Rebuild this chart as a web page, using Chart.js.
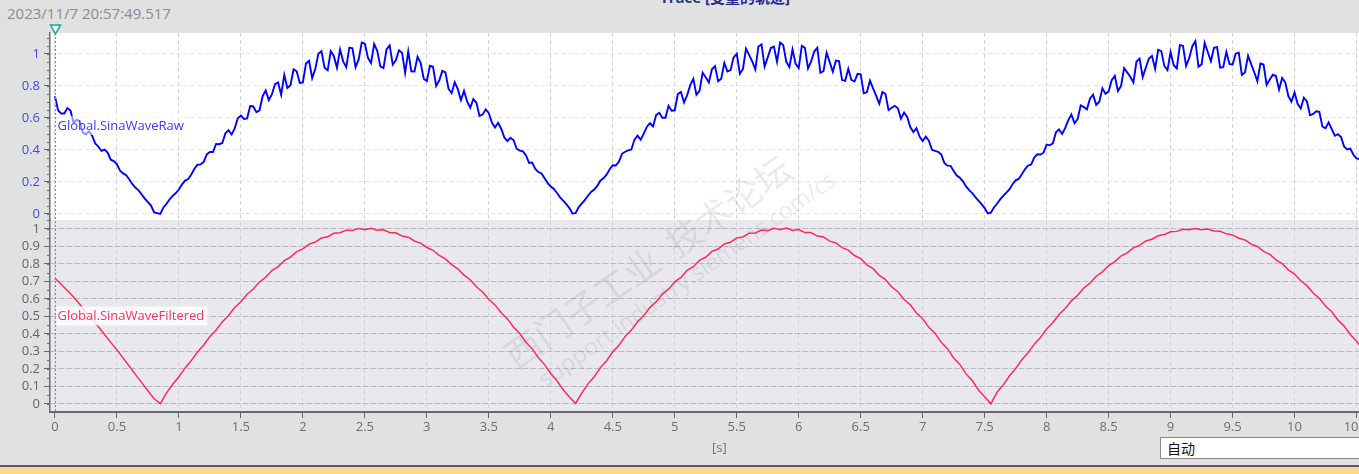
<!DOCTYPE html>
<html>
<head>
<meta charset="utf-8">
<script src="https://cdn.jsdelivr.net/npm/chart.js@4.4.1/dist/chart.umd.min.js"></script>
<style>
html,body{margin:0;padding:0;width:1359px;height:474px;overflow:hidden;background:#e1e1e1;font-family:"Open Sans","Noto Sans",sans-serif;}
#wrap{position:absolute;left:0;top:0;width:1359px;height:466px;}
#stamp{position:absolute;left:7px;top:3px;font-size:15px;color:#8c8c8c;white-space:nowrap;}
#title{position:absolute;left:660px;top:-11px;font-size:15px;font-weight:bold;line-height:17px;white-space:nowrap;font-family:"Open Sans","Noto Sans CJK SC",sans-serif;}
#title .a{color:#24407a;}
#title .b{color:#2a2a8a;}
#unit{position:absolute;left:712px;top:438px;font-size:13px;color:#707070;white-space:nowrap;}
#auto{position:absolute;left:1160px;top:437px;width:199px;height:22px;background:#fff;border:1px solid #8a8a8a;border-right:none;box-sizing:border-box;font-size:14px;padding-left:6px;line-height:20px;color:#111;font-family:"Noto Sans CJK SC",sans-serif;}
#strip{position:absolute;left:0;top:465px;width:1359px;height:9px;background:#fdd68d;border-top:2px solid #5c5c5c;box-sizing:border-box;}
</style>
</head>
<body>
<div id="stamp">2023/11/7 20:57:49.517</div>
<div id="title"><span class="a">Trace </span><span class="b">[变量的轨迹]</span></div>
<div id="wrap"><canvas id="c" width="1359" height="466"></canvas></div>
<div id="unit">[s]</div>
<div id="auto">自动</div>
<div id="strip"></div>
<script>
// ---- data ----
// grid samples at 0, 0.05, 0.10 ... s ; mid samples at 0.025, 0.075 ... s
const gridStep = 0.05;

const seriesNames = ['Global.SinaWaveRaw', 'Global.SinaWaveFiltered'];

const rawGrid = [
  0.735,0.628,0.662,0.571,0.578,0.498,0.489,0.421,0.402,0.339,0.311,0.254,0.216,0.164,0.122,0.074,0.010,
  0.000,0.064,0.113,0.153,0.209,0.247,0.308,0.326,0.387,0.438,
  0.444,0.523,0.535,0.615,0.597,0.672,0.648,0.772,0.747,0.822,
  0.869,0.805,0.892,0.822,0.957,0.906,1.017,0.898,0.986,1.028,
  0.918,1.035,0.966,1.064,0.943,1.020,0.912,1.054,0.960,1.008,
  1.016,0.890,0.944,0.830,0.920,0.834,0.885,0.755,0.780,0.769,
  0.664,0.695,0.621,0.630,0.540,0.533,0.456,0.461,0.396,0.366,
  0.322,0.262,0.224,0.172,0.131,0.084,0.037,
  0.005,0.065,0.114,0.153,0.208,0.246,0.305,0.328,0.389,0.403,
  0.490,0.502,0.567,0.618,0.601,0.676,0.648,0.762,0.742,0.844,
  0.769,0.854,0.904,0.829,0.944,0.899,1.002,0.905,0.994,0.903,
  1.060,0.979,1.046,1.072,0.951,1.028,0.912,1.039,0.952,1.038,
  0.892,0.949,0.958,0.837,0.907,0.828,0.873,0.760,0.785,0.689,
  0.750,0.664,0.661,0.634,0.543,0.536,0.456,0.458,0.394,0.372,
  0.302,0.269,0.226,0.172,0.131,0.084,0.037,
  0.008,0.064,0.113,0.153,0.210,0.248,0.303,0.353,0.372,0.434,
  0.441,0.528,0.538,0.622,0.593,0.668,0.722,0.682,0.785,0.766,
  0.863,0.799,0.885,0.822,0.971,0.914,0.988,1.026,0.925,1.012,
  0.910,1.051,0.974,1.080,0.935,1.012,1.038,0.914,1.013,0.933,
  1.008,0.884,0.937,0.830,0.934,0.840,0.862,0.850,0.737,0.759,
  0.659,0.703,0.625,0.638,0.536,0.530,0.499,0.421,0.409,0.348,
  0.323
];

const rawMid = [
  0.648,0.628,0.647,0.589,0.508,0.516,0.440,0.394,0.384,0.331,0.271,0.243,0.186,0.148,0.096,0.053,
  0.005,
  0.041,0.091,0.131,0.185,0.218,0.283,0.310,0.373,0.387,0.436,
  0.504,0.497,0.598,0.594,0.675,0.636,0.735,0.712,0.811,0.745,
  0.787,0.904,0.819,0.940,0.849,1.001,0.914,1.018,0.914,0.954,
  1.040,0.917,1.071,0.976,1.062,0.922,1.028,0.933,1.023,0.882,
  0.891,0.982,0.845,0.926,0.800,0.894,0.783,0.823,0.712,0.703,
  0.718,0.613,0.654,0.571,0.570,0.478,0.476,0.408,0.391,0.319,
  0.282,0.253,0.193,0.156,0.104,0.062,
  0.003,
  0.043,0.088,0.138,0.176,0.223,0.280,0.303,0.376,0.398,0.465,
  0.464,0.544,0.547,0.632,0.601,0.645,0.749,0.697,0.805,0.745,
  0.883,0.822,0.924,0.845,0.891,0.979,0.877,1.033,0.953,1.047,
  0.921,1.037,0.951,1.056,0.918,0.938,1.051,0.910,1.015,0.882,
  1.008,0.889,0.955,0.832,0.838,0.876,0.754,0.834,0.738,0.762,
  0.649,0.676,0.596,0.607,0.512,0.484,0.483,0.401,0.389,0.319,
  0.301,0.240,0.204,0.149,0.106,0.062,
  0.003,
  0.041,0.091,0.134,0.186,0.219,0.279,0.309,0.373,0.383,0.429,
  0.510,0.500,0.587,0.567,0.679,0.654,0.745,0.702,0.751,0.836,
  0.769,0.911,0.858,0.953,0.856,0.972,0.907,1.018,0.899,0.930,
  1.055,0.925,1.047,0.920,1.070,0.954,1.043,0.918,0.938,1.002,
  0.869,0.989,0.886,0.940,0.806,0.870,0.778,0.823,0.702,0.689,
  0.727,0.617,0.642,0.546,0.573,0.489,0.481,0.403,0.370,0.343
];

const filteredValues = [
  0.718,0.684,0.648,0.611,0.570,0.524,0.483,0.441,0.397,0.352,0.309,0.262,0.216,0.168,0.122,0.076,0.030,
  0.002,0.064,0.113,0.156,0.206,0.248,0.297,0.337,0.385,0.423,
  0.469,0.506,0.551,0.584,0.627,0.657,0.697,0.724,0.762,0.785,
  0.819,0.839,0.870,0.886,0.913,0.925,0.948,0.955,0.975,0.978,
  0.993,0.991,1.003,0.996,1.004,0.992,0.995,0.980,0.978,0.960,
  0.953,0.931,0.919,0.894,0.878,0.849,0.829,0.796,0.772,0.736,
  0.710,0.670,0.640,0.598,0.566,0.521,0.486,0.439,0.403,0.353,
  0.315,0.264,0.225,0.173,0.133,0.081,0.040,
  0.003,0.062,0.115,0.155,0.207,0.247,0.298,0.336,0.386,0.422,
  0.470,0.505,0.552,0.583,0.628,0.656,0.698,0.723,0.763,0.784,
  0.820,0.838,0.871,0.885,0.914,0.924,0.949,0.954,0.976,0.977,
  0.994,0.990,1.004,0.995,1.005,0.991,0.996,0.979,0.979,0.959,
  0.954,0.930,0.920,0.893,0.879,0.848,0.830,0.795,0.773,0.735,
  0.711,0.669,0.641,0.597,0.567,0.520,0.487,0.438,0.404,0.352,
  0.316,0.263,0.226,0.172,0.134,0.080,0.041,
  0.001,0.067,0.109,0.160,0.202,0.253,0.292,0.342,0.380,0.428,
  0.464,0.511,0.545,0.589,0.621,0.662,0.691,0.730,0.755,0.791,
  0.813,0.845,0.863,0.892,0.906,0.931,0.941,0.961,0.968,0.984,
  0.986,0.998,0.995,1.003,0.996,0.999,0.988,0.987,0.972,0.966,
  0.947,0.937,0.913,0.900,0.872,0.855,0.823,0.802,0.766,0.742,
  0.704,0.676,0.634,0.604,0.560,0.527,0.480,0.445,0.397,0.359,
  0.311
];

const xTickValues = [0,0.5,1,1.5,2,2.5,3,3.5,4,4.5,5,5.5,6,6.5,7,7.5,8,8.5,9,9.5,10,10.5];
const rawTickValues = [0,0.2,0.4,0.6,0.8,1];
const filteredTickValues = [0,0.1,0.2,0.3,0.4,0.5,0.6,0.7,0.8,0.9,1];
const minorStep = 0.05;

// ---- build ----
const rawPoints = [];
rawGrid.forEach((v, i) => {
  rawPoints.push({ x: +(i * gridStep).toFixed(3), y: v });
  if (i < rawMid.length) rawPoints.push({ x: +(i * gridStep + gridStep / 2).toFixed(3), y: rawMid[i] });
});
const filteredPoints = filteredValues.map((v, i) => ({ x: +(i * gridStep).toFixed(3), y: v }));
const fmt = v => String(Math.round(v * 10) / 10);

const FONT = '"Open Sans","Noto Sans",sans-serif';
Chart.defaults.font.family = FONT;
Chart.defaults.font.size = 13;

const panelBg = {
  id: 'panelBg',
  beforeDraw(chart) {
    const { ctx, chartArea: a, scales: { yR, yF } } = chart;
    ctx.save();
    ctx.fillStyle = '#ffffff';
    ctx.fillRect(a.left, yR.top, a.right - a.left, yR.bottom - yR.top);
    ctx.fillStyle = '#e8e8ee';
    ctx.fillRect(a.left, yF.top, a.right - a.left, yF.bottom - yF.top);
    ctx.restore();
  }
};

const minorTicks = {
  id: 'minorTicks',
  afterDraw(chart) {
    const { ctx } = chart;
    ctx.save();
    ctx.strokeStyle = '#6a6a6a';
    ctx.lineWidth = 1;
    [chart.scales.yR, chart.scales.yF].forEach(s => {
      const start = Math.ceil(s.min / minorStep);
      const end = Math.floor(s.max / minorStep);
      for (let k = start; k <= end; k++) {
        const y = Math.round(s.getPixelForValue(k * minorStep)) + 0.5;
        ctx.beginPath();
        ctx.moveTo(s.right - 3, y);
        ctx.lineTo(s.right, y);
        ctx.stroke();
      }
    });
    ctx.restore();
  }
};

const overlay = {
  id: 'overlay',
  afterDatasetsDraw(chart) {
    const { ctx, chartArea: a, scales: { x, yR, yF } } = chart;
    const x0 = Math.round(x.getPixelForValue(0)) + 0.5;
    ctx.save();
    ctx.strokeStyle = '#25b2b2';
    ctx.lineWidth = 1;
    ctx.setLineDash([2, 2]);
    ctx.beginPath();
    ctx.moveTo(x0, a.top - 4);
    ctx.lineTo(x0, a.bottom);
    ctx.stroke();
    ctx.setLineDash([]);
    ctx.fillStyle = '#e6f6f6';
    ctx.strokeStyle = '#1f9d9d';
    ctx.lineWidth = 1.5;
    ctx.beginPath();
    ctx.moveTo(x0 - 5, 25);
    ctx.lineTo(x0 + 5, 25);
    ctx.lineTo(x0, 34);
    ctx.closePath();
    ctx.fill();
    ctx.stroke();
    ctx.font = '13px ' + FONT;
    ctx.textBaseline = 'middle';
    const lab = (txt, y, col, bg) => {
      const w = ctx.measureText(txt).width;
      ctx.fillStyle = bg;
      ctx.fillRect(x0 + 1, y - 10, w + 4, 19);
      ctx.fillStyle = col;
      ctx.fillText(txt, x0 + 2, y);
    };
    lab(seriesNames[0], yR.getPixelForValue(0.55), '#3b3bf2', 'rgba(255,255,255,0.55)');
    lab(seriesNames[1], yF.getPixelForValue(0.5), '#ff2f62', 'rgba(255,255,255,0.8)');
    ctx.restore();
  },
  afterDraw(chart) {
    const { ctx } = chart;
    ctx.save();
    ctx.fillStyle = 'rgba(120,120,135,0.15)';
    ctx.textAlign = 'center';
    ctx.textBaseline = 'middle';
    ctx.translate(648, 262);
    ctx.rotate(-35 * Math.PI / 180);
    ctx.font = '36px "Noto Sans CJK SC",sans-serif';
    ctx.fillText('西门子工业  技术论坛', 0, 0);
    ctx.font = '23px ' + FONT;
    ctx.fillText('support.industry.siemens.com/cs', 22, 38);
    ctx.restore();
  }
};

new Chart(document.getElementById('c'), {
  type: 'line',
  data: {
    datasets: [
      {
        label: seriesNames[0],
        data: rawPoints,
        yAxisID: 'yR',
        borderColor: '#0000ff',
        borderWidth: 1.9,
        pointRadius: 0,
        tension: 0
      },
      {
        label: seriesNames[1],
        data: filteredPoints,
        yAxisID: 'yF',
        borderColor: '#ff2b57',
        borderWidth: 1.5,
        pointRadius: 0,
        tension: 0
      }
    ]
  },
  options: {
    responsive: false,
    animation: false,
    events: [],
    layout: { padding: { top: 33, left: 0, right: 0, bottom: 0 } },
    plugins: { legend: { display: false }, tooltip: { enabled: false }, title: { display: false } },
    scales: {
      x: {
        type: 'linear',
        position: 'bottom',
        min: -0.04,
        max: 10.52,
        afterBuildTicks: s => { s.ticks = xTickValues.map(v => ({ value: v })); },
        afterFit: s => { s.height = 54; s.paddingLeft = 0; s.paddingRight = 0; },
        ticks: { color: '#6e6e6e', font: { size: 13 }, padding: 1, maxRotation: 0, autoSkip: false, callback: fmt },
        grid: { color: '#d3d3d9', lineWidth: 1, tickLength: 6, tickColor: '#6a6a6a', tickWidth: 1 },
        border: { color: '#6a6a6a', width: 2, dash: [4, 3] }
      },
      yF: {
        type: 'linear',
        position: 'left',
        stack: 'panels',
        stackWeight: 192,
        min: -0.0457,
        max: 1.051,
        afterBuildTicks: s => { s.ticks = filteredTickValues.map(v => ({ value: v })); },
        afterFit: s => { s.width = 50; },
        ticks: { color: '#5d6575', font: { size: 13 }, padding: 4, autoSkip: false, callback: fmt },
        grid: { color: '#b9b9c2', lineWidth: 1, tickLength: 6, tickColor: '#6a6a6a' },
        border: { color: '#6a6a6a', width: 1.5, dash: [6, 2] }
      },
      yR: {
        type: 'linear',
        position: 'left',
        stack: 'panels',
        stackWeight: 187,
        min: -0.0375,
        max: 1.131,
        afterBuildTicks: s => { s.ticks = rawTickValues.map(v => ({ value: v })); },
        afterFit: s => { s.width = 50; },
        ticks: { color: '#4646e8', font: { size: 13 }, padding: 4, autoSkip: false, callback: fmt },
        grid: { color: '#e2e2e2', lineWidth: 1, tickLength: 6, tickColor: '#6a6a6a' },
        border: { color: '#6a6a6a', width: 1.5, dash: [4, 3] }
      }
    }
  },
  plugins: [panelBg, minorTicks, overlay]
});
</script>
</body>
</html>
